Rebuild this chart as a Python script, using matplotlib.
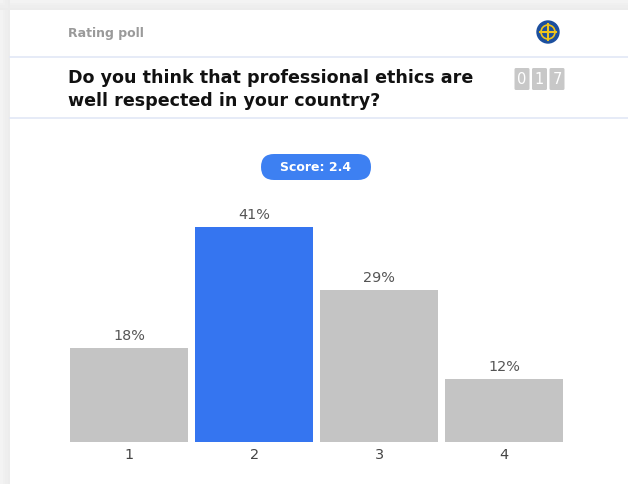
import numpy as np
import matplotlib
matplotlib.use("Agg")
import matplotlib.pyplot as plt
from matplotlib.patches import Rectangle, FancyBboxPatch, Circle

plt.rcParams["font.family"] = ["DejaVu Sans"]

# data
categories = ["1", "2", "3", "4"]
shares = [18, 41, 29, 12]
highlight = "2"
score_text = "Score: 2.4"
counter_digits = ["0", "1", "7"]
poll_kind = "Rating poll"
question = "Do you think that professional ethics are\nwell respected in your country?"

W, H = 628, 484
GRAY_BAR = "#c4c4c4"
BLUE_BAR = "#3575f0"

fig = plt.figure(figsize=(W / 100, H / 100), dpi=100)
fig.patch.set_facecolor("white")

# background axes in pixel coordinates (y down)
bg = fig.add_axes([0, 0, 1, 1])
bg.set_xlim(0, W)
bg.set_ylim(H, 0)
bg.axis("off")

# card shadow: soft gray fading toward the card
for i, c in enumerate(["#f3f3f3", "#f0f0f0", "#eeeeee", "#ececec"]):
    bg.add_patch(Rectangle((i * 2.5, 0), 2.5, H, color=c, lw=0))
    bg.add_patch(Rectangle((0, i * 2.5), W, 2.5, color=c, lw=0))
bg.add_patch(Rectangle((10, 10), W - 10, H - 10, facecolor="white", lw=0))

# separators
bg.plot([10, W], [57, 57], color="#e2e7f6", lw=1.2)
bg.plot([10, W], [118, 118], color="#e2e7f6", lw=1.2)

# header texts
bg.text(68, 33, poll_kind, fontsize=9, fontweight="bold", color="#9a9a9a",
        va="center", ha="left")
bg.text(68, 89.5, question, fontsize=12.6, fontweight="bold", color="#111111",
        va="center", ha="left", linespacing=1.3)

# logo
bg.add_patch(Circle((548, 32), 11, color="#1c4f9e", zorder=3))
bg.plot([540, 556], [32, 32], color="#f0c419", lw=1.5, zorder=4)
bg.plot([548, 548], [24, 40], color="#f0c419", lw=1.5, zorder=4)
bg.add_patch(Circle((548, 32), 7, fill=False, ec="#f0c419", lw=1.2, zorder=4))

# response counter
for i, d in enumerate(counter_digits):
    x0 = 514 + i * 17.5
    bg.add_patch(FancyBboxPatch((x0 + 0.5, 68), 15, 22, boxstyle="round,pad=0,rounding_size=1.5",
                                facecolor="#c8c8c8", ec="none"))
    bg.text(x0 + 8, 79.5, d, fontsize=10.5, color="white", ha="center", va="center")

# score pill
bg.add_patch(FancyBboxPatch((261, 154), 110, 26, boxstyle="round,pad=0,rounding_size=13",
                            facecolor="#3d80f2", ec="none", mutation_aspect=1))
bg.text(316, 167.5, score_text, fontsize=9, fontweight="bold", color="white",
        ha="center", va="center")

# bar chart
ax_left, ax_right = 66.75, 566.75
ax_bottom, ax_top = 442, 180
ax = fig.add_axes([ax_left / W, (H - ax_bottom) / H,
                   (ax_right - ax_left) / W, (ax_bottom - ax_top) / H])
ax.set_facecolor("none")
x = np.arange(1, len(categories) + 1)
colors = [BLUE_BAR if c == highlight else GRAY_BAR for c in categories]
bars = ax.bar(x, shares, width=0.945, color=colors)
for b, v in zip(bars, shares):
    ax.annotate(f"{v}%", (b.get_x() + b.get_width() / 2, v), xytext=(0, 12),
                textcoords="offset pixels", ha="center", va="center",
                fontsize=10.4, color="#555555")
ax.set_xlim(0.5, 4.5)
ax.set_ylim(0, 50)
ax.set_xticks(x)
ax.set_xticklabels(categories, fontsize=10.4, color="#444444")
ax.tick_params(axis="x", length=0, pad=4.5)
ax.set_yticks([])
for s in ax.spines.values():
    s.set_visible(False)

fig.savefig("out.png", dpi=100)
